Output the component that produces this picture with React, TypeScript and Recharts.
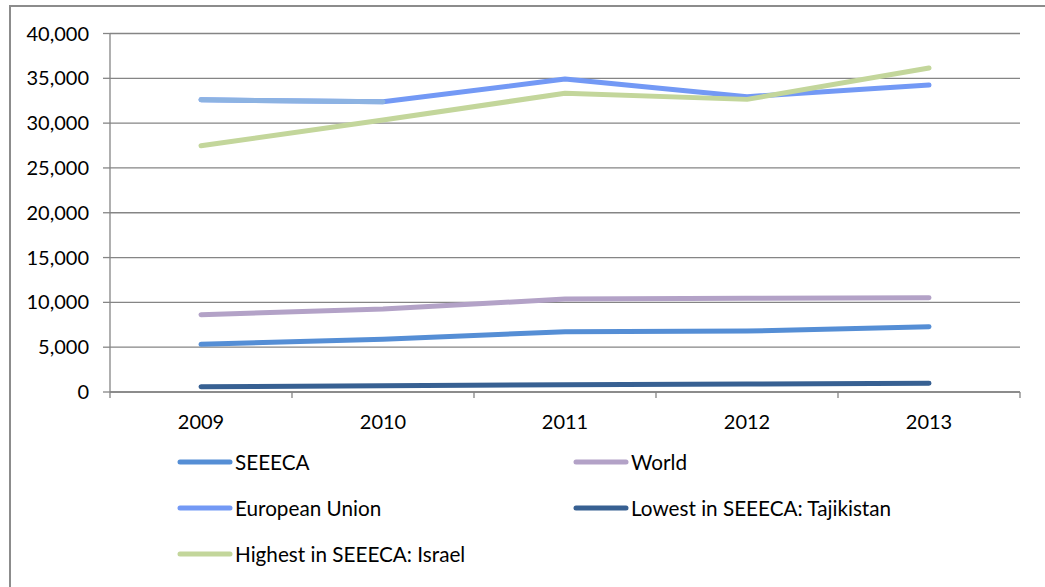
import { LineChart, Line, XAxis, YAxis, CartesianGrid } from "recharts";

// GDP per capita (PPP), 2009-2013
const years = ["2009", "2010", "2011", "2012", "2013"];
const seeeca = [5320, 5880, 6730, 6800, 7290];
const world = [8630, 9250, 10380, 10450, 10520];
const europeanUnion = [32600, 32380, 34920, 32950, 34250];
const tajikistan = [590, 700, 815, 890, 970];
const israel = [27480, 30350, 33330, 32650, 36150];
const yTicks = [0, 5000, 10000, 15000, 20000, 25000, 30000, 35000, 40000];

const FONT = "Lato, 'Open Sans', sans-serif";
const AXIS_GREY = "#858585";

const series = [
  { key: "seeeca", name: "SEEECA", color: "#558ED5" },
  { key: "world", name: "World", color: "#B3A2C7" },
  { key: "eu", name: "European Union", color: "#7399F5" },
  { key: "tajikistan", name: "Lowest in SEEECA: Tajikistan", color: "#376092" },
  { key: "israel", name: "Highest in SEEECA: Israel", color: "#C3D69B" },
];

const data = years.map((year, i) => ({
  year,
  seeeca: seeeca[i],
  world: world[i],
  eu: europeanUnion[i],
  // first EU segment is drawn in a lighter shade in the original
  euEarly: i <= 1 ? europeanUnion[i] : null,
  tajikistan: tajikistan[i],
  israel: israel[i],
}));

function YearTick(props: any) {
  const { x, y, payload, index, visibleTicksCount } = props;
  const half = payload.offset || 91;
  return (
    <g>
      <line x1={x - half} x2={x - half} y1={y} y2={y + 6} stroke={AXIS_GREY} strokeWidth={1.3} />
      {index === visibleTicksCount - 1 && (
        <line x1={x + half} x2={x + half} y1={y} y2={y + 6} stroke={AXIS_GREY} strokeWidth={1.3} />
      )}
      <text x={x} y={y + 37} textAnchor="middle" fill="#000" fontSize={20} fontFamily={FONT}>
        {payload.value}
      </text>
    </g>
  );
}

const legendCols = [177, 573];
const legendRows = [462, 508, 554];

function ChartLegend() {
  return (
    <>
      {series.map((s, i) => (
        <div
          key={s.key}
          style={{
            position: "absolute",
            left: legendCols[i % 2],
            top: legendRows[Math.floor(i / 2)] - 12,
            height: 24,
            display: "flex",
            alignItems: "center",
            fontFamily: FONT,
            fontSize: 20.7,
            color: "#000",
            whiteSpace: "nowrap",
          }}
        >
          <svg width={58} height={10} style={{ display: "block" }}>
            <line x1={3} x2={53} y1={5} y2={5} stroke={s.color} strokeWidth={5} strokeLinecap="round" />
          </svg>
          <span>{s.name}</span>
        </div>
      ))}
    </>
  );
}

export default function App() {
  return (
    <div
      style={{
        position: "absolute",
        left: 0,
        top: 0,
        width: 1045,
        height: 587,
        overflow: "hidden",
        background: "#fff",
      }}
    >
      <div
        style={{
          position: "absolute",
          left: 9,
          top: 5,
          width: 1100,
          height: 700,
          border: "2px solid #8c8c8c",
        }}
      />
      <div style={{ position: "absolute", left: 0, top: 0 }}>
        <LineChart
          width={1045}
          height={587}
          data={data}
          margin={{ top: 33.5, right: 25, bottom: 155, left: 0 }}
        >
          <CartesianGrid vertical={false} stroke={AXIS_GREY} strokeWidth={1.3} />
          <XAxis
            dataKey="year"
            scale="band"
            interval={0}
            height={40}
            tickLine={false}
            tickSize={0}
            tickMargin={0}
            axisLine={{ stroke: AXIS_GREY, strokeWidth: 1.3 }}
            tick={<YearTick />}
          />
          <YAxis
            width={110}
            domain={[0, 40000]}
            ticks={yTicks}
            interval={0}
            tickSize={7}
            tickMargin={14}
            axisLine={{ stroke: AXIS_GREY, strokeWidth: 1.3 }}
            tickLine={{ stroke: AXIS_GREY, strokeWidth: 1.3 }}
            tick={{ fill: "#000", fontSize: 20, fontFamily: FONT }}
            tickFormatter={(v: number) => v.toLocaleString("en-US")}
          />
          <Line dataKey="seeeca" stroke="#558ED5" strokeWidth={5} strokeLinecap="round" strokeLinejoin="round" dot={false} activeDot={false} isAnimationActive={false} />
          <Line dataKey="world" stroke="#B3A2C7" strokeWidth={5} strokeLinecap="round" strokeLinejoin="round" dot={false} activeDot={false} isAnimationActive={false} />
          <Line dataKey="eu" stroke="#7399F5" strokeWidth={5} strokeLinecap="round" strokeLinejoin="round" dot={false} activeDot={false} isAnimationActive={false} />
          <Line dataKey="euEarly" stroke="#8DB3E2" strokeWidth={5} strokeLinecap="round" strokeLinejoin="round" dot={false} activeDot={false} isAnimationActive={false} />
          <Line dataKey="tajikistan" stroke="#376092" strokeWidth={5} strokeLinecap="round" strokeLinejoin="round" dot={false} activeDot={false} isAnimationActive={false} />
          <Line dataKey="israel" stroke="#C3D69B" strokeWidth={5} strokeLinecap="round" strokeLinejoin="round" dot={false} activeDot={false} isAnimationActive={false} />
        </LineChart>
      </div>
      <ChartLegend />
    </div>
  );
}
